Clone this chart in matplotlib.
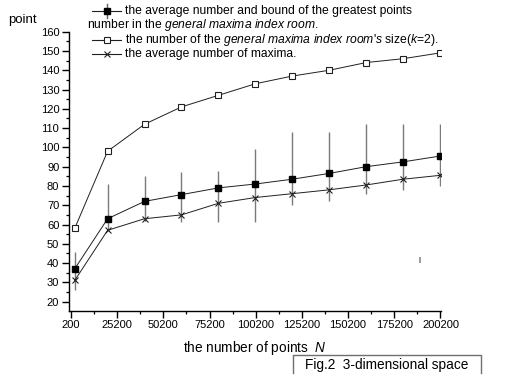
import matplotlib
matplotlib.use("Agg")
import matplotlib.pyplot as plt
from matplotlib.lines import Line2D
from matplotlib.ticker import MultipleLocator, FixedLocator

plt.rcParams['font.family'] = ['Liberation Sans', 'DejaVu Sans']
plt.rcParams['mathtext.fontset'] = 'custom'
plt.rcParams['mathtext.rm'] = 'Liberation Sans'
plt.rcParams['mathtext.it'] = 'Liberation Sans:italic'

# ---- data ----
n_points = [2200, 20000, 40000, 60000, 80000, 100000, 120000, 140000, 160000, 180000, 200000]
room_size = [58, 98, 112, 121, 127, 133, 137, 140, 144, 146, 149]
greatest_avg = [37, 63, 72, 75.5, 79, 81, 83.5, 86.5, 90, 92.5, 95.5]
greatest_upper = [46, 81, 85, 87, 88, 99, 108, 108, 112, 112, 112]
greatest_lower = [26, 57, 62, 61.5, 61.5, 61.5, 70, 72, 76, 78, 80]
maxima_avg = [31, 57, 63, 65, 71, 74, 76, 78, 80.5, 83.5, 85.5]
stray_x = [189300]
stray_y = [(40.2, 43.2)]

x_ticks = [200, 25200, 50200, 75200, 100200, 125200, 150200, 175200, 200200]
x_tick_labels = [str(v) for v in x_ticks]
y_ticks = list(range(20, 161, 10))

W, H = 509, 387
fig = plt.figure(figsize=(W / 100, H / 100), dpi=100)
ax = fig.add_axes([69 / W, 1 - 310.7 / H, (441 - 69) / W, (310.7 - 31.7) / H])

lc = '#202020'
ms_fill, ms_open, ms_x = 4.4, 3.9, 5.0
err_lo = [m - l for m, l in zip(greatest_avg, greatest_lower)]
err_hi = [u - m for m, u in zip(greatest_avg, greatest_upper)]
ax.errorbar(n_points, greatest_avg, yerr=[err_lo, err_hi], fmt='none',
            ecolor='#7a7a7a', elinewidth=1.0, capsize=0, zorder=1)
ax.plot(n_points, room_size, color=lc, lw=0.7, marker='s', ms=ms_open,
        mfc='white', mec=lc, mew=0.8, zorder=3)
ax.plot(n_points, greatest_avg, color=lc, lw=0.7, marker='s', ms=ms_fill,
        mfc='black', mec='black', zorder=3)
ax.plot(n_points, maxima_avg, color=lc, lw=0.7, marker='x', ms=ms_x,
        mec=lc, mew=0.8, zorder=3)
for sx, (y0, y1) in zip(stray_x, stray_y):
    ax.vlines(sx, y0, y1, color='#8a8a8a', lw=1.2)

ax.set_xlim(-900, 200500)
ax.set_ylim(15.3, 160)
ax.spines['top'].set_visible(False)
ax.spines['right'].set_visible(False)
ax.spines['left'].set_linewidth(1.0)
ax.spines['bottom'].set_linewidth(1.0)

ax.xaxis.set_major_locator(FixedLocator(x_ticks))
ax.set_xticklabels(x_tick_labels)
ax.xaxis.set_minor_locator(FixedLocator([v + 12500 for v in x_ticks[:-1]]))
ax.yaxis.set_major_locator(FixedLocator(y_ticks))
ax.yaxis.set_minor_locator(MultipleLocator(5))
ax.tick_params(axis='both', which='major', direction='out', length=5, width=1.0,
               labelsize=8, pad=2, colors='black')
ax.tick_params(axis='both', which='minor', direction='out', length=2.5, width=0.9)

ax.set_xlabel(r'the number of points  $\it{N}$', fontsize=9.8, labelpad=6)

fig.text(8 / W, 1 - 20 / H, 'point', fontsize=9.5, va='center', ha='left')

# ---- legend (manual, Origin style) ----
def fx(px):
    return px / W

def fy(py):
    return 1 - py / H

fs_leg = 8.7
rows = [11, 25, 39.5, 53.5]
hx0, hx1, tx = 92, 121, 125
hxm = (hx0 + hx1) / 2
# row 1 handle: filled square with error bar
r = rows[0]
fig.add_artist(Line2D([fx(hx0), fx(hx1)], [fy(r), fy(r)], transform=fig.transFigure,
                      color=lc, lw=0.8))
fig.add_artist(Line2D([fx(hxm)] * 2, [fy(r - 7), fy(r + 7)],
                      transform=fig.transFigure, color='#606060', lw=1.0))
fig.add_artist(Line2D([fx(hxm)], [fy(r)], transform=fig.transFigure,
                      marker='s', ms=ms_fill, mfc='black', mec='black', ls='none'))
fig.text(fx(tx), fy(r), 'the average number and bound of the greatest points',
         fontsize=fs_leg, va='center', ha='left')
fig.text(fx(hx0 - 5), fy(rows[1]),
         r'number in the $\it{general\ maxima\ index\ room}$.',
         fontsize=fs_leg, va='center', ha='left')
# row 3 handle: open square
r = rows[2]
fig.add_artist(Line2D([fx(hx0), fx(hx1)], [fy(r), fy(r)], transform=fig.transFigure,
                      color=lc, lw=0.8))
fig.add_artist(Line2D([fx(hxm)], [fy(r)], transform=fig.transFigure,
                      marker='s', ms=ms_open, mfc='white', mec=lc, mew=0.8, ls='none'))
fig.text(fx(tx), fy(r),
         r"the number of the $\it{general\ maxima\ index\ room}$'$\it{s}$ size($\it{k}$=2).",
         fontsize=fs_leg, va='center', ha='left')
# row 4 handle: cross
r = rows[3]
fig.add_artist(Line2D([fx(hx0), fx(hx1)], [fy(r), fy(r)], transform=fig.transFigure,
                      color=lc, lw=0.8))
fig.add_artist(Line2D([fx(hxm)], [fy(r)], transform=fig.transFigure,
                      marker='x', ms=ms_x, mec=lc, mew=0.8, ls='none'))
fig.text(fx(tx), fy(r), 'the average number of maxima.',
         fontsize=fs_leg, va='center', ha='left')

# ---- caption box (open at bottom) ----
bx0, bx1, by0, by1 = 293, 481, 355, 373
fig.add_artist(Line2D([fx(bx0), fx(bx0), fx(bx1), fx(bx1)],
                      [fy(by1), fy(by0), fy(by0), fy(by1)],
                      transform=fig.transFigure, color='#707070', lw=1.0))
fig.text(fx((bx0 + bx1) / 2), fy(364.5), 'Fig.2  3-dimensional space',
         fontsize=9.8, va='center', ha='center')

fig.savefig('out.png', dpi=100)
